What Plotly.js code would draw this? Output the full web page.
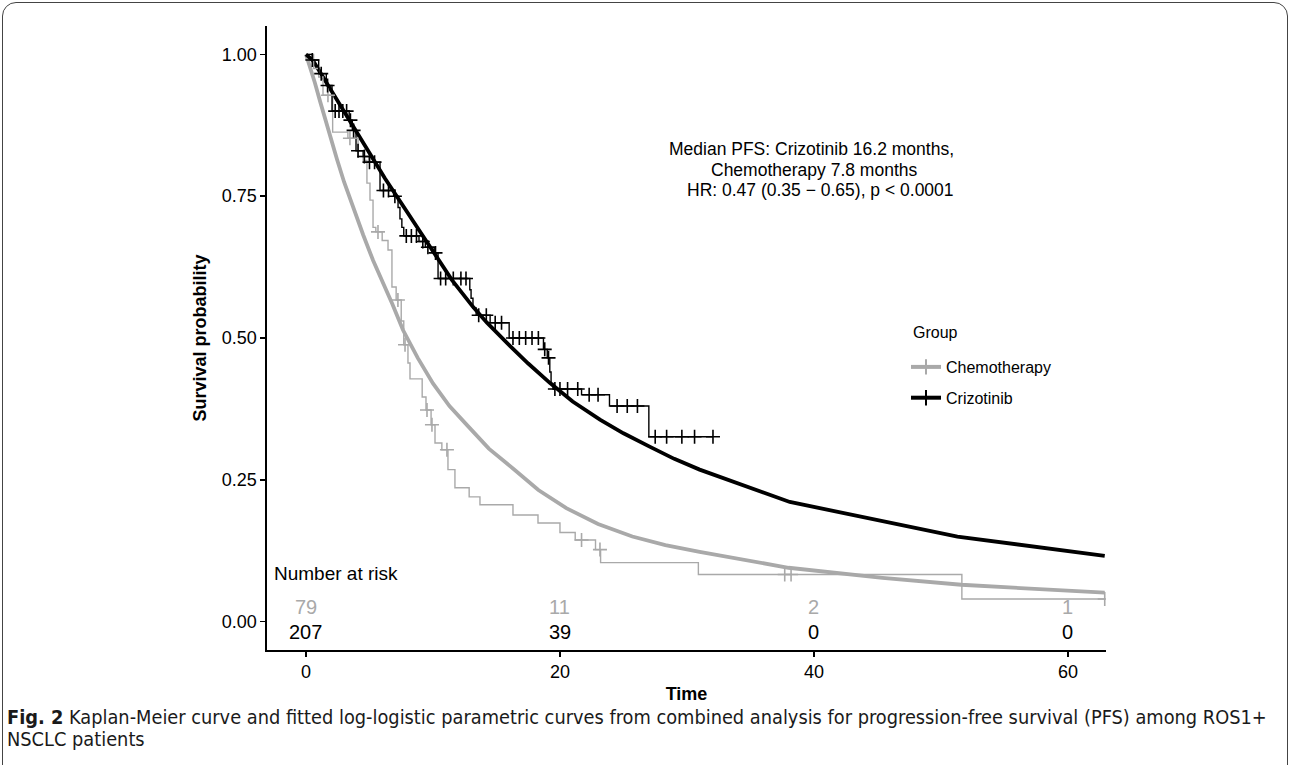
<!DOCTYPE html>
<html>
<head>
<meta charset="utf-8">
<script src="https://cdn.plot.ly/plotly-3.0.1.min.js"></script>
<style>
html,body{margin:0;padding:0;background:#fff;}
#wrap{position:relative;width:1292px;height:765px;overflow:hidden;}
#chart{width:1292px;height:765px;}
#frame{position:absolute;left:2px;top:2px;width:1284px;height:800px;border:1.5px solid #444;border-radius:14px;pointer-events:none;}
</style>
</head>
<body>
<div id="wrap"><div id="chart"></div><div id="frame"></div></div>
<script>
// ---- Kaplan-Meier step data ----
const crizTime = [0, 0.5, 1.0, 1.6, 2.05, 3.4, 3.65, 3.94, 4.5, 5.0, 5.83, 6.9, 7.25, 7.4, 7.55, 7.7, 8.9, 9.4, 10.1, 10.4, 12.9, 13.0, 13.15, 13.4, 14.5, 16.0, 18.7, 19.0, 19.2, 19.3, 19.45, 21.7, 23.9, 27.0, 32.05];
const crizSurv = [1, 0.99, 0.966, 0.945, 0.90, 0.884, 0.866, 0.83, 0.82, 0.81, 0.76, 0.75, 0.73, 0.71, 0.695, 0.68, 0.67, 0.66, 0.65, 0.605, 0.585, 0.57, 0.553, 0.54, 0.527, 0.50, 0.48, 0.465, 0.44, 0.42, 0.41, 0.40, 0.38, 0.326, 0.326];
const crizCensTime = [0.5, 1.2, 1.7, 2.3, 2.6, 2.9, 3.2, 3.5, 3.75, 4.1, 4.6, 5.0, 5.4, 6.1, 6.5, 7.0, 7.9, 8.3, 8.7, 9.2, 9.6, 10.2, 10.6, 11.0, 11.6, 12.2, 12.6, 13.6, 14.2, 14.9, 15.4, 16.3, 16.8, 17.3, 17.8, 18.3, 18.8, 19.1, 19.6, 20.0, 20.6, 21.4, 22.3, 23.0, 24.5, 25.3, 26.1, 27.5, 28.4, 29.6, 30.6, 32.05];
const crizCensSurv = [0.99, 0.966, 0.945, 0.90, 0.90, 0.90, 0.90, 0.884, 0.866, 0.83, 0.82, 0.81, 0.81, 0.76, 0.76, 0.75, 0.68, 0.68, 0.68, 0.67, 0.66, 0.65, 0.605, 0.605, 0.605, 0.605, 0.605, 0.54, 0.54, 0.527, 0.527, 0.50, 0.50, 0.50, 0.50, 0.50, 0.48, 0.465, 0.41, 0.41, 0.41, 0.41, 0.40, 0.40, 0.38, 0.38, 0.38, 0.326, 0.326, 0.326, 0.326, 0.326];

const chemoTime = [0, 0.6, 1.0, 1.34, 2.1, 3.3, 4.1, 4.5, 4.8, 5.04, 5.28, 5.5, 6.0, 6.46, 6.77, 7.1, 7.5, 7.7, 8.03, 8.19, 9.15, 9.45, 9.85, 10.16, 10.7, 11.18, 11.73, 12.85, 13.7, 16.3, 18.27, 20.0, 21.2, 22.8, 23.2, 30.9, 51.65, 62.9];
const chemoSurv = [1, 0.975, 0.96, 0.928, 0.863, 0.852, 0.82, 0.813, 0.773, 0.743, 0.695, 0.687, 0.672, 0.655, 0.59, 0.567, 0.53, 0.488, 0.456, 0.428, 0.396, 0.373, 0.347, 0.315, 0.303, 0.268, 0.236, 0.22, 0.206, 0.188, 0.174, 0.157, 0.144, 0.127, 0.104, 0.083, 0.04, 0.04];
const chemoCensTime = [1.73, 3.46, 5.67, 7.24, 7.8, 9.53, 9.92, 11.1, 21.7, 23.15, 37.7, 38.2, 62.9];
const chemoCensSurv = [0.928, 0.852, 0.687, 0.567, 0.488, 0.373, 0.347, 0.303, 0.144, 0.127, 0.083, 0.083, 0.04];

// ---- Fitted log-logistic curves ----
const crizFitTime = [0, 0.55, 2.0, 3.7, 5.0, 6.2, 7.2, 8.5, 10.0, 11.5, 13.15, 14.25, 16.06, 17.5, 19.2, 21.0, 23.15, 25.0, 27.1, 29.0, 31.0, 38.1, 51.3, 62.9];
const crizFitSurv = [1.0, 0.989, 0.936, 0.872, 0.826, 0.782, 0.748, 0.703, 0.652, 0.602, 0.555, 0.527, 0.486, 0.455, 0.421, 0.388, 0.356, 0.332, 0.308, 0.287, 0.268, 0.211, 0.150, 0.116];
const chemoFitTime = [0, 0.3, 0.7, 1.1, 1.7, 2.44, 3.0, 3.7, 4.5, 5.28, 6.06, 6.8, 7.64, 8.8, 10.0, 11.3, 12.7, 14.4, 16.3, 18.3, 20.5, 23.0, 25.7, 28.3, 31.0, 38.0, 45.4, 51.6, 62.9];
const chemoFitSurv = [1.0, 0.98, 0.95, 0.918, 0.87, 0.815, 0.775, 0.73, 0.682, 0.637, 0.598, 0.56, 0.514, 0.465, 0.42, 0.38, 0.346, 0.305, 0.27, 0.232, 0.2, 0.172, 0.15, 0.135, 0.123, 0.095, 0.077, 0.065, 0.051];

// ---- Number at risk ----
const riskTimes = [0, 20, 40, 60];
const riskChemo = [79, 11, 2, 1];
const riskCriz = [207, 39, 0, 0];

const groups = ['Chemotherapy', 'Crizotinib'];
const xTicks = [0, 20, 40, 60];
const yTicks = [0, 0.25, 0.5, 0.75, 1.0];
const yTickText = ['0.00', '0.25', '0.50', '0.75', '1.00'];

const GRAY = '#a9a9a9';
const BLACK = '#000000';
const FONT = 'Liberation Sans, Arial, Helvetica, sans-serif';
const CAPFONT = 'Liberation Sans Narrow, DejaVu Sans Condensed, Open Sans, sans-serif';

// pixel helpers for paper-positioned text (plot area: x 267..1106, y 26..650)
const px = v => (v - 267) / 839;
const py = v => (650 - v) / 624;

const traces = [];
traces.push({x: chemoFitTime, y: chemoFitSurv, mode: 'lines', line: {color: GRAY, width: 3.8}, showlegend: false, hoverinfo: 'skip'});
traces.push({x: crizFitTime, y: crizFitSurv, mode: 'lines', line: {color: BLACK, width: 3.8}, showlegend: false, hoverinfo: 'skip'});
traces.push({x: chemoTime, y: chemoSurv, mode: 'lines', line: {color: GRAY, width: 1.4, shape: 'hv'}, showlegend: false});
traces.push({x: crizTime, y: crizSurv, mode: 'lines', line: {color: BLACK, width: 1.4, shape: 'hv'}, showlegend: false});
traces.push({x: chemoCensTime, y: chemoCensSurv, mode: 'markers', marker: {symbol: 'cross-thin', size: 10, line: {color: GRAY, width: 1.6}}, showlegend: false});
traces.push({x: crizCensTime, y: crizCensSurv, mode: 'markers', marker: {symbol: 'cross-thin', size: 10, line: {color: BLACK, width: 1.6}}, showlegend: false});
// legend entries
traces.push({x: [null], y: [null], name: groups[0], legendgroup: 'a', mode: 'lines+markers', line: {color: GRAY, width: 4}, marker: {symbol: 'cross-thin', size: 11, line: {color: GRAY, width: 2}}});
traces.push({x: [null], y: [null], name: groups[1], legendgroup: 'b', mode: 'lines+markers', line: {color: BLACK, width: 4}, marker: {symbol: 'cross-thin', size: 11, line: {color: BLACK, width: 2}}});

const annotations = [];
annotations.push({xref: 'x', yref: 'y', x: 39.8, y: 0.834, text: 'Median PFS: Crizotinib 16.2 months,', showarrow: false, font: {family: FONT, size: 17.5, color: '#000'}, xanchor: 'center', yanchor: 'middle'});
annotations.push({xref: 'x', yref: 'y', x: 40.0, y: 0.797, text: 'Chemotherapy 7.8 months', showarrow: false, font: {family: FONT, size: 17.5, color: '#000'}, xanchor: 'center', yanchor: 'middle'});
annotations.push({xref: 'x', yref: 'y', x: 40.5, y: 0.761, text: 'HR: 0.47 (0.35 \u2212 0.65), p < 0.0001', showarrow: false, font: {family: FONT, size: 17.5, color: '#000'}, xanchor: 'center', yanchor: 'middle'});
annotations.push({xref: 'x', yref: 'y', x: -2.68, y: 0.0845, text: 'Number at risk', showarrow: false, font: {family: FONT, size: 19, color: '#000'}, xanchor: 'left', yanchor: 'middle'});
riskTimes.forEach((t, i) => {
  annotations.push({xref: 'x', yref: 'y', x: t, y: 0.025, text: String(riskChemo[i]), showarrow: false, font: {family: FONT, size: 20, color: GRAY}, xanchor: 'center', yanchor: 'middle'});
  annotations.push({xref: 'x', yref: 'y', x: t, y: -0.018, text: String(riskCriz[i]), showarrow: false, font: {family: FONT, size: 20, color: '#000'}, xanchor: 'center', yanchor: 'middle'});
});
// legend title
annotations.push({xref: 'paper', yref: 'paper', x: px(911), y: py(332), xanchor: 'left', yanchor: 'middle', showarrow: false, text: 'Group', font: {family: FONT, size: 16, color: '#000'}});
// caption
annotations.push({xref: 'paper', yref: 'paper', x: px(5), y: py(717), xanchor: 'left', yanchor: 'middle', align: 'left', showarrow: false,
  text: '<b>Fig. 2</b> Kaplan-Meier curve and fitted log-logistic parametric curves from combined analysis for progression-free survival (PFS) among ROS1+',
  font: {family: CAPFONT, size: 19.8, color: '#1a1a1a'}});
annotations.push({xref: 'paper', yref: 'paper', x: px(5), y: py(739), xanchor: 'left', yanchor: 'middle', align: 'left', showarrow: false,
  text: 'NSCLC patients',
  font: {family: CAPFONT, size: 19.8, color: '#1a1a1a'}});

const layout = {
  width: 1292, height: 765,
  margin: {l: 267, r: 186, t: 26, b: 115},
  paper_bgcolor: '#fff', plot_bgcolor: '#fff',
  font: {family: FONT, color: '#000'},
  showlegend: true,
  legend: {
    x: px(906), y: py(350), xanchor: 'left', yanchor: 'top',
    font: {family: FONT, size: 16, color: '#000'},
    bgcolor: 'rgba(0,0,0,0)', itemwidth: 30, traceorder: 'grouped', tracegroupgap: 7
  },
  xaxis: {
    range: [-3.07, 63.0], tickvals: xTicks, ticktext: xTicks.map(String),
    showline: true, linecolor: '#000', linewidth: 1.6,
    ticks: 'outside', ticklen: 5, tickwidth: 1.6, tickcolor: '#000',
    showgrid: false, zeroline: false,
    tickfont: {family: FONT, size: 18, color: '#000'},
    title: {text: '<b>Time</b>', font: {family: FONT, size: 18, color: '#000'}, standoff: 6},
    automargin: false
  },
  yaxis: {
    range: [-0.05, 1.05], tickvals: yTicks, ticktext: yTickText,
    showline: true, linecolor: '#000', linewidth: 1.6,
    ticks: 'outside', ticklen: 5, tickwidth: 1.6, tickcolor: '#000',
    showgrid: false, zeroline: false,
    tickfont: {family: FONT, size: 18, color: '#000'},
    title: {text: '<b>Survival probability</b>', font: {family: FONT, size: 18, color: '#000'}, standoff: 10},
    automargin: false
  },
  annotations: annotations
};

Plotly.newPlot('chart', traces, layout, {displayModeBar: false, staticPlot: true});
</script>
</body>
</html>
